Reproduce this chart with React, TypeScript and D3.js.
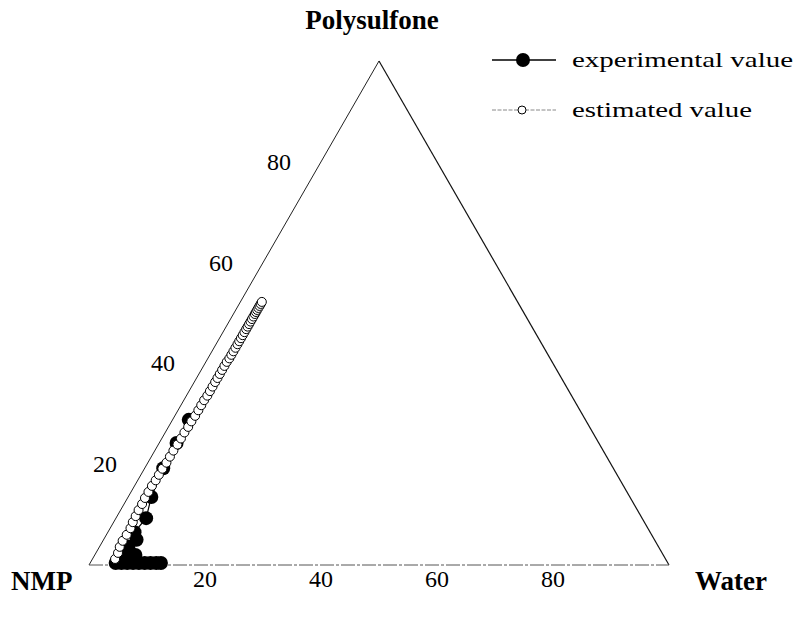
import React, { useEffect, useRef } from "react";
import * as d3 from "d3";

// ternary compositions in percent: p = polysulfone, w = water, NMP = rest
const estP = [1.2, 2.4, 3.6, 4.8, 6.0, 7.3, 8.5, 9.7, 10.9, 12.1, 13.3, 14.5, 15.7, 16.8, 17.9, 19.1, 20.3, 21.5, 22.7, 23.9, 25.1, 26.3, 27.4, 28.5, 29.6, 30.7, 31.7, 32.7, 33.6, 34.5, 35.4, 36.3, 37.1, 37.9, 38.7, 39.5, 40.3, 41.0, 41.7, 42.4, 43.1, 43.8, 44.4, 45.0, 45.6, 46.2, 46.8, 47.3, 47.8, 48.3, 48.8, 49.3, 49.8, 50.2, 50.6, 51.0, 51.4, 51.8, 52.2];
const estW = [3.9, 3.8, 3.5, 3.4, 3.5, 3.5, 3.3, 3.2, 3.1, 3.1, 3.0, 3.0, 3.0, 3.1, 3.1, 3.1, 3.2, 3.2, 3.2, 3.3, 3.3, 3.3, 3.4, 3.4, 3.5, 3.5, 3.5, 3.5, 3.6, 3.6, 3.6, 3.6, 3.6, 3.6, 3.6, 3.6, 3.6, 3.7, 3.7, 3.7, 3.7, 3.7, 3.7, 3.7, 3.7, 3.7, 3.7, 3.7, 3.7, 3.7, 3.7, 3.7, 3.7, 3.7, 3.7, 3.7, 3.7, 3.7, 3.7];

const expP = [28.8, 24.2, 19.2, 13.5, 9.3, 6.5, 5.0, 3.6, 2.2, 2.0, 1.0, 0.4, 0.4, 0.4, 0.4, 0.4, 0.4, 0.4, 0.4, 0.4];
const expW = [2.8, 3.0, 3.2, 4.0, 5.2, 4.6, 5.7, 5.0, 5.2, 7.0, 6.2, 4.4, 5.4, 6.4, 7.4, 8.4, 9.4, 10.4, 11.4, 12.2];

const ticks = [20, 40, 60, 80];
const vertexLabels = ["Polysulfone", "NMP", "Water"];
const legendLabels = ["experimental value", "estimated value"];

const FONT = "'Liberation Serif', 'Times New Roman', serif";

const TernaryChart = () => {
  const svgRef = useRef<SVGSVGElement | null>(null);

  useEffect(() => {
    document.body.style.margin = "0";
    const width = 801;
    const height = 617;
    const svg = d3.select(svgRef.current);
    svg.selectAll("*").remove();
    svg.attr("width", width).attr("height", height).style("display", "block");

    const h = Math.sqrt(3) / 2;
    const xScale = d3.scaleLinear().domain([0, 100]).range([89, 669]);
    const yScale = d3.scaleLinear().domain([0, 100 * h]).range([565, 61]);
    const px = (p: number, w: number) => xScale(w + p / 2);
    const py = (p: number) => yScale(p * h);

    // triangle
    svg.append("line")
      .attr("x1", px(0, 0)).attr("y1", py(0))
      .attr("x2", px(100, 0)).attr("y2", py(100))
      .attr("stroke", "#222").attr("stroke-width", 1);
    svg.append("line")
      .attr("x1", px(100, 0)).attr("y1", py(100))
      .attr("x2", px(0, 100)).attr("y2", py(0))
      .attr("stroke", "#111").attr("stroke-width", 1.2);
    svg.append("line")
      .attr("x1", px(0, 0)).attr("y1", py(0))
      .attr("x2", px(0, 100)).attr("y2", py(0))
      .attr("stroke", "#555").attr("stroke-width", 1)
      .attr("stroke-dasharray", "14,2,3,2");

    // tick labels
    svg.selectAll(".tl")
      .data(ticks)
      .enter()
      .append("text")
      .attr("x", (d) => px(d, 0) - 42)
      .attr("y", (d) => py(d) + 8)
      .attr("text-anchor", "middle")
      .attr("font-family", FONT)
      .attr("font-size", "24px")
      .text((d) => d);
    svg.selectAll(".tb")
      .data(ticks)
      .enter()
      .append("text")
      .attr("x", (d) => px(0, d))
      .attr("y", 587)
      .attr("text-anchor", "middle")
      .attr("font-family", FONT)
      .attr("font-size", "24px")
      .text((d) => d);

    // vertex labels
    const title = (t: string, x: number, y: number, anchor: string) =>
      svg.append("text")
        .attr("x", x).attr("y", y)
        .attr("text-anchor", anchor)
        .attr("font-family", FONT)
        .attr("font-weight", "bold")
        .attr("font-size", "27px")
        .text(t);
    title(vertexLabels[0], px(100, 0) - 7, 29, "middle");
    title(vertexLabels[1], 11, 590, "start");
    title(vertexLabels[2], 767, 590, "end");

    const exp = expP.map((p, i) => ({ p, w: expW[i] }));
    const est = estP.map((p, i) => ({ p, w: estW[i] }));
    const line = d3.line<{ p: number; w: number }>()
      .x((d) => px(d.p, d.w))
      .y((d) => py(d.p));

    // experimental series
    svg.append("path")
      .attr("d", line(exp))
      .attr("fill", "none")
      .attr("stroke", "#000")
      .attr("stroke-width", 1.2);
    svg.selectAll(".exp")
      .data(exp)
      .enter()
      .append("circle")
      .attr("cx", (d) => px(d.p, d.w))
      .attr("cy", (d) => py(d.p))
      .attr("r", 7)
      .attr("fill", "#000");

    // estimated series
    svg.append("path")
      .attr("d", line(est))
      .attr("fill", "none")
      .attr("stroke", "#777")
      .attr("stroke-width", 1)
      .attr("stroke-dasharray", "3,2");
    svg.selectAll(".est")
      .data(est)
      .enter()
      .append("circle")
      .attr("cx", (d) => px(d.p, d.w))
      .attr("cy", (d) => py(d.p))
      .attr("r", 4.5)
      .attr("fill", "#fff")
      .attr("stroke", "#000")
      .attr("stroke-width", 1);

    // legend
    const lg = svg.append("g");
    lg.append("line")
      .attr("x1", 492).attr("x2", 556).attr("y1", 60).attr("y2", 60)
      .attr("stroke", "#000").attr("stroke-width", 1.5);
    lg.append("circle").attr("cx", 523).attr("cy", 60).attr("r", 7).attr("fill", "#000");
    lg.append("text")
      .attr("x", 572).attr("y", 67)
      .attr("font-family", FONT).attr("font-size", "22px")
      .attr("textLength", 221).attr("lengthAdjust", "spacingAndGlyphs")
      .text(legendLabels[0]);
    lg.append("line")
      .attr("x1", 492).attr("x2", 556).attr("y1", 110).attr("y2", 110)
      .attr("stroke", "#888").attr("stroke-width", 1)
      .attr("stroke-dasharray", "4,1.5");
    lg.append("circle").attr("cx", 522).attr("cy", 110).attr("r", 4)
      .attr("fill", "#fff").attr("stroke", "#000").attr("stroke-width", 1);
    lg.append("text")
      .attr("x", 572).attr("y", 117)
      .attr("font-family", FONT).attr("font-size", "22px")
      .attr("textLength", 180).attr("lengthAdjust", "spacingAndGlyphs")
      .text(legendLabels[1]);
  }, []);

  return <svg ref={svgRef}></svg>;
};

export default function App() {
  return <TernaryChart />;
}
